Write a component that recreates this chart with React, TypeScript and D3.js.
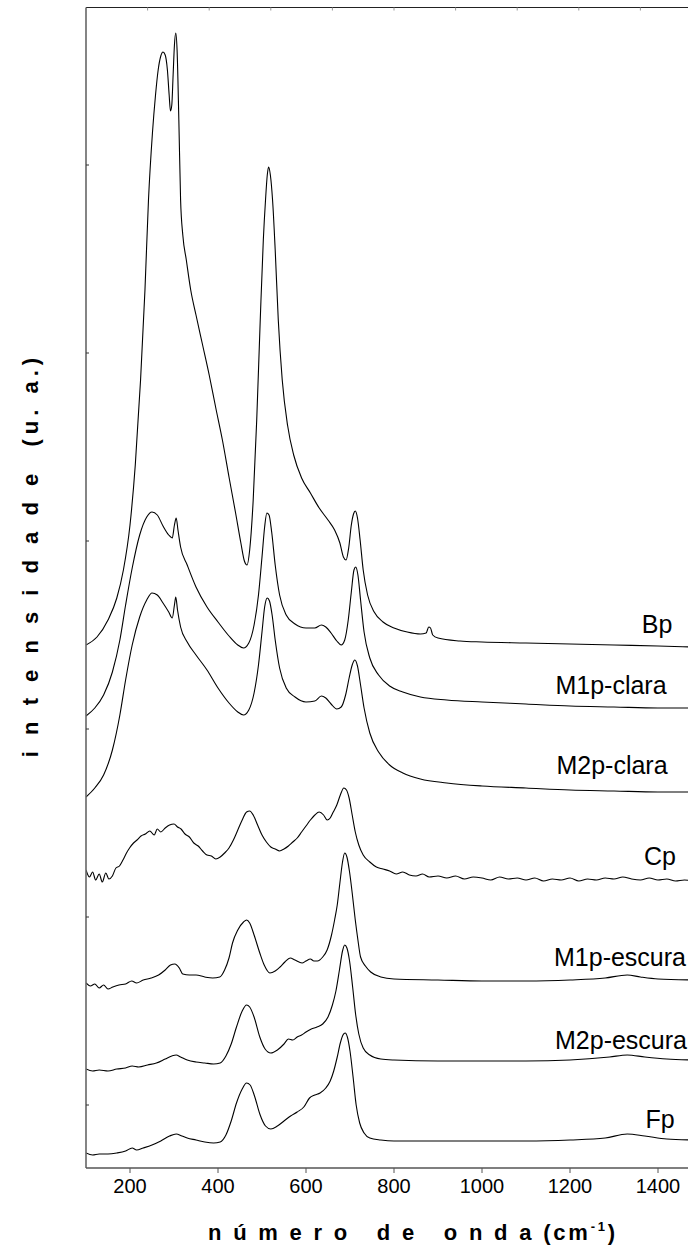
import * as d3 from 'd3';

const W = 688, H = 1245;
const M = { left: 86, top: 7.5, bottom: 1168 };
const PX_PER_CM = 0.44;

// Raman spectra, [wavenumber cm-1, intensity above own baseline (u.a.)]
const NAMES = ['Bp', 'M1p-clara', 'M2p-clara', 'Cp', 'M1p-escura', 'M2p-escura', 'Fp'];
const OFFSETS = [523, 452, 371, 298, 185, 99, 15];

const BP: [number, number][] = [
  [100, 0], [125, 8], [150, 25], [170, 47], [185, 75], [200, 120], [212, 180], [224, 265], [234, 355],
  [242, 445], [251, 512], [258, 550], [264, 575], [270, 589], [275, 593], [280, 590], [285, 575],
  [289, 550], [292, 534], [295, 540], [298, 570], [301, 600], [304, 612], [307, 595], [311, 525],
  [315, 445], [320, 410], [328, 385], [338, 355], [350, 330], [365, 300], [380, 270], [395, 237],
  [410, 205], [425, 168], [440, 132], [452, 102], [460, 84], [466, 80], [472, 95], [480, 145],
  [488, 225], [496, 325], [503, 405], [508, 445], [512, 470], [515, 478], [519, 470], [524, 445],
  [530, 395], [537, 325], [546, 265], [558, 220], [572, 190], [590, 167], [610, 152], [630, 137],
  [650, 125], [665, 115], [677, 102], [685, 88], [691, 85], [697, 97], [703, 120], [708, 131],
  [712, 134], [717, 127], [723, 105], [730, 75], [740, 50], [755, 33], [775, 23], [800, 17],
  [830, 13], [860, 11], [873, 12], [879, 18], [883, 17], [888, 10], [900, 7], [950, 4], [1000, 3],
  [1100, 2], [1200, 1], [1300, 0], [1400, -1], [1480, -2],
];

const M1P_CLARA: [number, number][] = [
  [100, 0], [120, 8], [140, 21], [160, 44], [177, 76], [190, 111], [205, 148], [222, 181], [238, 199],
  [250, 204], [262, 201], [275, 190], [288, 181], [296, 178], [301, 191], [305, 198], [309, 186],
  [315, 169], [330, 151], [350, 129], [375, 109], [400, 94], [425, 80], [445, 71], [458, 68],
  [470, 73], [482, 91], [492, 121], [500, 159], [506, 189], [511, 203], [516, 201], [522, 184],
  [530, 151], [540, 121], [555, 101], [575, 92], [600, 88], [620, 88], [635, 91], [645, 89],
  [657, 83], [670, 75], [680, 71], [688, 76], [696, 96], [703, 124], [709, 146], [713, 149],
  [718, 141], [724, 116], [732, 84], [745, 58], [765, 41], [790, 30], [820, 24], [860, 19],
  [920, 16], [1000, 14], [1100, 12], [1200, 10], [1300, 9], [1400, 8], [1480, 8],
];

const M2P_CLARA: [number, number][] = [
  [100, 0], [120, 9], [140, 22], [160, 47], [177, 82], [190, 117], [205, 152], [222, 180], [238, 197],
  [250, 204], [262, 202], [275, 194], [288, 185], [296, 179], [301, 192], [304, 200], [308, 187],
  [315, 170], [330, 155], [350, 142], [375, 127], [400, 109], [425, 94], [445, 85], [458, 82],
  [470, 87], [482, 104], [492, 132], [500, 165], [506, 190], [512, 199], [517, 196], [523, 182],
  [530, 157], [540, 129], [555, 109], [575, 100], [600, 95], [620, 96], [635, 101], [645, 99],
  [657, 93], [670, 88], [680, 90], [690, 102], [698, 119], [705, 132], [711, 137], [717, 131],
  [724, 112], [732, 89], [745, 64], [765, 45], [790, 32], [820, 24], [860, 18], [920, 14],
  [1000, 11], [1100, 9], [1200, 7], [1300, 6], [1400, 5], [1480, 5],
];

const CP: [number, number][] = [
  [100, 0], [108, -7], [115, -2], [122, -10], [130, -4], [137, -12], [145, -3], [152, -9], [160, -6],
  [168, 2], [176, 4], [184, 10], [192, 17], [199, 22], [208, 27], [216, 30], [225, 34], [235, 36],
  [245, 39], [255, 35], [262, 41], [270, 38], [280, 42], [290, 45], [300, 46], [308, 43], [316, 41],
  [325, 36], [335, 33], [345, 27], [355, 24], [365, 19], [375, 15], [385, 14], [395, 11], [405, 13],
  [415, 17], [425, 22], [435, 30], [445, 40], [455, 50], [465, 58], [472, 59], [480, 55], [490, 45],
  [500, 35], [510, 28], [520, 23], [530, 21], [540, 19], [550, 21], [560, 24], [570, 28], [580, 32],
  [590, 38], [600, 44], [610, 50], [620, 55], [630, 58], [640, 55], [648, 50], [655, 52], [662, 58],
  [670, 65], [678, 75], [686, 82], [692, 80], [698, 72], [705, 55], [712, 38], [720, 25], [730, 15],
  [745, 8], [760, 3], [775, 1], [790, -1], [805, -4], [820, -2], [835, -5], [850, -6], [865, -4],
  [880, -7], [900, -6], [920, -8], [940, -6], [960, -9], [980, -7], [1000, -8], [1020, -10],
  [1040, -7], [1060, -9], [1080, -8], [1100, -10], [1120, -8], [1140, -11], [1160, -9], [1180, -10],
  [1200, -8], [1220, -11], [1240, -9], [1260, -10], [1280, -8], [1300, -9], [1320, -7], [1340, -9],
  [1360, -10], [1380, -8], [1400, -10], [1420, -9], [1440, -11], [1460, -10], [1480, -11],
];

const M1P_ESCURA: [number, number][] = [
  [100, 0], [110, -3], [120, -1], [130, -5], [140, -2], [150, -6], [161, -4], [175, -2], [190, -1],
  [204, 2], [215, 0], [230, 3], [248, 5], [265, 8], [280, 13], [292, 18], [302, 19], [312, 15],
  [320, 9], [335, 8], [350, 8], [370, 6], [388, 5], [404, 6], [415, 13], [425, 25], [433, 40],
  [445, 53], [458, 61], [465, 63], [472, 60], [482, 48], [495, 30], [505, 18], [518, 10], [530, 12],
  [541, 16], [552, 21], [564, 25], [575, 23], [591, 20], [600, 22], [610, 24], [618, 22], [626, 22],
  [638, 26], [648, 33], [658, 48], [665, 63], [671, 78], [677, 100], [683, 121], [688, 130],
  [693, 126], [699, 111], [705, 90], [712, 63], [718, 43], [724, 26], [735, 17], [747, 11], [770, 6],
  [800, 4], [900, 3], [1000, 2], [1100, 2], [1200, 3], [1280, 5], [1330, 8], [1360, 6], [1400, 4],
  [1480, 3],
];

const M2P_ESCURA: [number, number][] = [
  [100, 0], [115, -2], [130, -1], [150, -2], [170, 0], [190, 1], [205, 3], [220, 2], [240, 4],
  [260, 6], [280, 10], [295, 13], [305, 14], [315, 12], [330, 9], [350, 7], [370, 6], [390, 5],
  [405, 6], [418, 13], [430, 25], [442, 42], [455, 58], [465, 64], [472, 62], [482, 52], [495, 32],
  [507, 20], [520, 16], [535, 19], [550, 25], [560, 30], [570, 29], [580, 32], [590, 34], [600, 37],
  [612, 40], [625, 42], [638, 45], [650, 52], [660, 64], [668, 78], [676, 99], [683, 118],
  [688, 124], [693, 121], [699, 108], [706, 82], [713, 54], [720, 35], [730, 21], [745, 14],
  [770, 10], [800, 9], [900, 8], [1000, 8], [1100, 8], [1200, 9], [1290, 12], [1330, 14], [1370, 12],
  [1420, 10], [1480, 9],
];

const FP: [number, number][] = [
  [100, 0], [115, -2], [130, -1], [150, -1], [170, 0], [190, 2], [205, 5], [215, 3], [230, 5],
  [250, 8], [270, 12], [290, 17], [305, 19], [318, 17], [330, 15], [350, 13], [370, 11], [390, 10],
  [405, 11], [418, 18], [430, 32], [442, 50], [455, 64], [465, 70], [473, 68], [483, 57], [495, 39],
  [508, 27], [520, 24], [535, 27], [550, 32], [565, 37], [580, 41], [595, 46], [608, 55], [620, 58],
  [632, 60], [645, 65], [655, 72], [663, 82], [671, 96], [678, 110], [684, 118], [689, 120],
  [694, 116], [700, 102], [707, 76], [714, 48], [722, 30], [732, 20], [745, 15], [770, 13], [800, 12],
  [900, 12], [1000, 12], [1100, 12], [1200, 13], [1280, 15], [1330, 19], [1370, 17], [1420, 14],
  [1480, 13],
];

const SERIES = [BP, M1P_CLARA, M2P_CLARA, CP, M1P_ESCURA, M2P_ESCURA, FP];

const X_TICKS = [200, 400, 600, 800, 1000, 1200, 1400];
const TOP_TICKS = [240, 380, 520, 660, 800, 940, 1080, 1220, 1360];
const Y_TICKS = [63, 251, 439, 627, 815, 1003];

// label centres (px) for each spectrum
const LABEL_POS: [number, number][] = [
  [657, 624], [611, 685], [612, 765], [660, 856], [620, 957], [621, 1040], [660, 1119],
];

const FONT = "Arial, 'Liberation Sans', Helvetica, sans-serif";

export default function App() {
  const x = d3.scaleLinear().domain([100, 1480]).range([M.left, M.left + 1380 * PX_PER_CM]);
  const y = d3.scaleLinear().domain([0, M.bottom - M.top]).range([M.bottom, M.top]);

  return (
    <svg
      width={W}
      height={H}
      viewBox={`0 0 ${W} ${H}`}
      style={{ position: 'absolute', left: 0, top: 0, background: '#fff' }}
      fontFamily={FONT}
    >
      <defs>
        <clipPath id="plot">
          <rect x={M.left} y={M.top} width={W - M.left} height={M.bottom - M.top} />
        </clipPath>
      </defs>

      {/* spectra */}
      <g clipPath="url(#plot)">
        {SERIES.map((s, i) => {
          const line = d3.line<[number, number]>()
            .x(d => x(d[0]))
            .y(d => y(d[1] + OFFSETS[i]))
            .curve(d3.curveMonotoneX);
          return <path key={NAMES[i]} d={line(s) ?? ''} fill="none" stroke="#000" strokeWidth={1.1} strokeLinejoin="round" />;
        })}
      </g>

      {/* frame */}
      <line x1={M.left} x2={W} y1={M.top} y2={M.top} stroke="#222" strokeWidth={1.2} />
      <line x1={M.left} x2={M.left} y1={M.top} y2={M.bottom} stroke="#666" strokeWidth={1.6} />
      <line x1={M.left} x2={W} y1={M.bottom} y2={M.bottom} stroke="#555" strokeWidth={1.6} />

      {TOP_TICKS.map(t => (
        <line key={'t' + t} x1={x(t)} x2={x(t)} y1={M.top} y2={M.top + 3} stroke="#999" strokeWidth={1} />
      ))}
      {Y_TICKS.map(t => (
        <line key={'y' + t} x1={M.left} x2={M.left + 3} y1={y(t)} y2={y(t)} stroke="#333" strokeWidth={1} />
      ))}
      {X_TICKS.map(t => (
        <g key={'x' + t}>
          <line x1={x(t)} x2={x(t)} y1={M.bottom} y2={M.bottom + 5} stroke="#555" strokeWidth={1} />
          <text x={x(t)} y={M.bottom + 25} textAnchor="middle" fontSize={20} fill="#000">{t}</text>
        </g>
      ))}

      {/* spectrum labels */}
      {NAMES.map((n, i) => (
        <text key={'l' + n} x={LABEL_POS[i][0]} y={LABEL_POS[i][1]} textAnchor="middle" dominantBaseline="central" fontSize={25} fill="#000">{n}</text>
      ))}

      {/* axis titles */}
      <text x={413} y={1240} textAnchor="middle" fontSize={22} fontWeight="bold" letterSpacing={2.8} style={{ whiteSpace: 'pre' }}>
        {'n ú m e r o   d e   o n d a (cm'}
        <tspan dy={-9} fontSize={13}>-1</tspan>
        <tspan dy={9}>)</tspan>
      </text>
      <text
        transform="translate(30,555) rotate(-90)"
        textAnchor="middle"
        dominantBaseline="central"
        fontSize={22}
        fontWeight="bold"
        letterSpacing={5}
        style={{ whiteSpace: 'pre' }}
      >
        {'i n t e n s i d a d e  (u. a.)'}
      </text>
    </svg>
  );
}
